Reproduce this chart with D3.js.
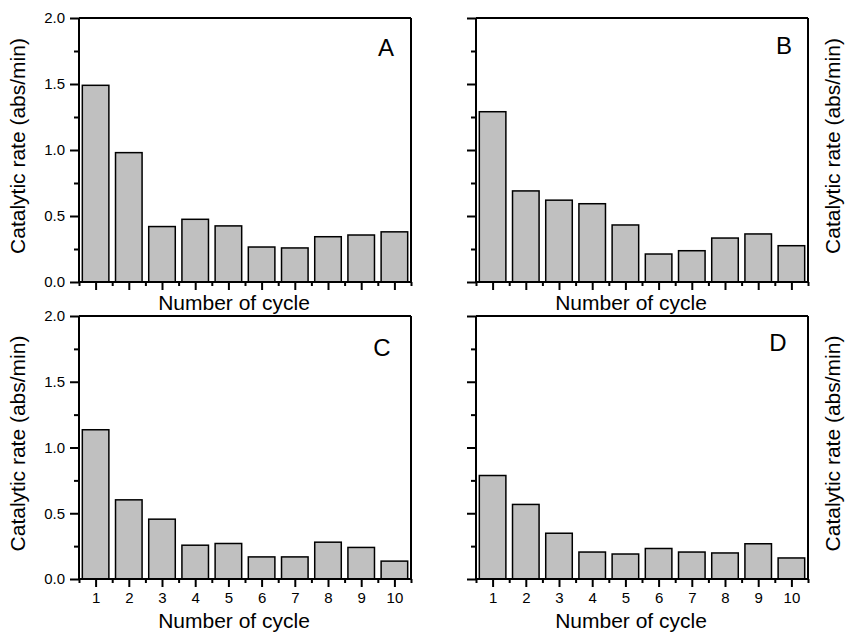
<!DOCTYPE html>
<html>
<head>
<meta charset="utf-8">
<script src="https://cdn.jsdelivr.net/npm/d3@7"></script>
<style>
  html, body { margin: 0; padding: 0; background: #fff; }
  svg { display: block; font-family: "Liberation Sans", Arial, sans-serif; }
</style>
</head>
<body>
<svg id="chart" width="847" height="635"></svg>
<script>
// ---- data ----
const cycles = [1, 2, 3, 4, 5, 6, 7, 8, 9, 10];
const seriesA = [1.49, 0.98, 0.42, 0.475, 0.425, 0.265, 0.258, 0.343, 0.356, 0.38];
const seriesB = [1.29, 0.69, 0.62, 0.593, 0.432, 0.212, 0.237, 0.333, 0.364, 0.275];
const seriesC = [1.135, 0.602, 0.455, 0.257, 0.27, 0.168, 0.168, 0.28, 0.24, 0.136];
const seriesD = [0.787, 0.567, 0.348, 0.205, 0.19, 0.232, 0.205, 0.198, 0.268, 0.16];
const yMajorTicks = [0, 0.5, 1.0, 1.5, 2.0];
const yMinorTicks = [0.25, 0.75, 1.25, 1.75];
const panelLetters = ["A", "B", "C", "D"];
const yTitle = "Catalytic rate (abs/min)";
const xTitle = "Number of cycle";

// ---- layout ----
const panels = [
  { data: seriesA, letter: panelLetters[0], left: 79, right: 411, top: 18, bottom: 282, yLabels: true, xLabels: false, titleSide: "left", letterX: 386, letterY: 56 },
  { data: seriesB, letter: panelLetters[1], left: 476, right: 808, top: 18, bottom: 282, yLabels: false, xLabels: false, titleSide: "right", letterX: 784, letterY: 54 },
  { data: seriesC, letter: panelLetters[2], left: 79, right: 411, top: 316, bottom: 579, yLabels: true, xLabels: true, titleSide: "left", letterX: 382, letterY: 356 },
  { data: seriesD, letter: panelLetters[3], left: 476, right: 808, top: 316, bottom: 579, yLabels: false, xLabels: true, titleSide: "right", letterX: 778, letterY: 351 }
];

const svg = d3.select("#chart");
const fmt = d3.format(".1f");
const FONT = '"Liberation Sans", Arial, sans-serif';

panels.forEach(p => {
  const g = svg.append("g");
  const x = d3.scaleBand().domain(cycles).range([p.left, p.right]).paddingInner(0.2).paddingOuter(0.1);
  const xLin = d3.scaleLinear().domain([0.5, 10.5]).range([p.left, p.right]);
  const y = d3.scaleLinear().domain([0, 2]).range([p.bottom, p.top]);

  // bars
  g.selectAll("rect.bar").data(p.data).enter().append("rect")
    .attr("class", "bar")
    .attr("x", (d, i) => x(cycles[i]))
    .attr("width", x.bandwidth())
    .attr("y", d => y(d))
    .attr("height", d => y(0) - y(d))
    .attr("fill", "#c0c0c0")
    .attr("stroke", "#000")
    .attr("stroke-width", 1.5);

  // y axis major
  const yAxis = d3.axisLeft(y).tickValues(yMajorTicks).tickSize(9).tickPadding(5)
    .tickFormat(p.yLabels ? fmt : () => "");
  const ya = g.append("g").attr("transform", `translate(${p.left},0)`).call(yAxis);
  // y axis minor
  const ym = g.append("g").attr("transform", `translate(${p.left},0)`)
    .call(d3.axisLeft(y).tickValues(yMinorTicks).tickSize(5).tickFormat(() => ""));
  ym.select(".domain").remove();

  // x axis major (at category centres)
  const xAxis = d3.axisBottom(xLin).tickValues(cycles).tickSize(8).tickPadding(5)
    .tickFormat(p.xLabels ? d3.format("d") : () => "");
  const xa = g.append("g").attr("transform", `translate(0,${p.bottom})`).call(xAxis);
  // x axis minor (at category boundaries)
  const xm = g.append("g").attr("transform", `translate(0,${p.bottom})`)
    .call(d3.axisBottom(xLin).tickValues(d3.range(0.5, 11, 1)).tickSize(4).tickFormat(() => ""));
  xm.select(".domain").remove();

  [ya, ym, xa, xm].forEach(a => {
    a.attr("font-family", FONT);
    a.selectAll(".domain").attr("stroke", "#000").attr("stroke-width", 2);
    a.selectAll(".tick line").attr("stroke", "#000").attr("stroke-width", 2);
    a.selectAll(".tick text").attr("fill", "#000").attr("font-size", 15)
      .attr("font-family", FONT);
  });
  // make domains plain lines (no outer ticks)
  ya.select(".domain").attr("d", `M0,${p.top}V${p.bottom}`);
  xa.select(".domain").attr("d", `M${p.left},0H${p.right}`);

  // top and right frame lines
  g.append("line").attr("x1", p.left).attr("x2", p.right).attr("y1", p.top).attr("y2", p.top)
    .attr("stroke", "#000").attr("stroke-width", 2);
  g.append("line").attr("x1", p.right).attr("x2", p.right).attr("y1", p.top).attr("y2", p.bottom)
    .attr("stroke", "#000").attr("stroke-width", 2);

  // panel letter
  g.append("text").attr("x", p.letterX).attr("y", p.letterY)
    .attr("text-anchor", "middle").attr("font-size", 24).attr("fill", "#000")
    .text(p.letter);

  // x title
  const xTitleY = p.xLabels ? p.bottom + 49 : p.bottom + 28;
  g.append("text").attr("x", (p.left + p.right) / 2 - 11).attr("y", xTitleY)
    .attr("text-anchor", "middle").attr("font-size", 21).attr("fill", "#000")
    .text(xTitle);

  // y title
  const yc = (p.top + p.bottom) / 2 - 4;
  const tx = p.titleSide === "left" ? 25 : p.right + 32;
  g.append("text")
    .attr("transform", `translate(${tx},${yc}) rotate(-90)`)
    .attr("text-anchor", "middle").attr("font-size", 21).attr("fill", "#000")
    .text(yTitle);
});
</script>
</body>
</html>
